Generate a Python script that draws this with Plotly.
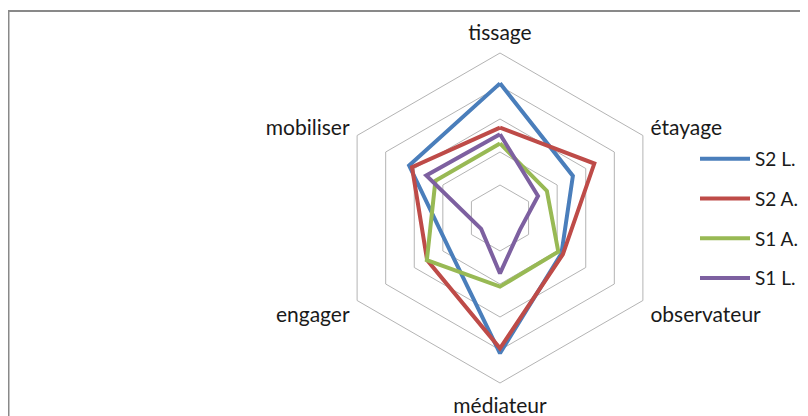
import plotly.graph_objects as go

categories = ["tissage", "étayage", "observateur", "médiateur", "engager", "mobiliser"]
series_names = ["S2 L.", "S2 A.", "S1 A.", "S1 L."]
s2_l = [4.08, 2.55, 2.15, 4.1, 1.8, 3.18]
s2_a = [2.74, 3.3, 2.2, 3.95, 2.55, 3.08]
s1_a = [2.26, 1.64, 2.04, 2.08, 2.56, 2.26]
s1_l = [2.54, 1.33, 0.7, 1.68, 0.66, 2.58]
colors = ["#4A7EBB", "#BE4B48", "#98B954", "#7D60A0"]

fig = go.Figure()
for i, (name, vals) in enumerate(zip(series_names, [s2_l, s2_a, s1_a, s1_l])):
    fig.add_trace(go.Scatterpolar(
        r=vals + vals[:1],
        theta=categories + categories[:1],
        mode="lines",
        name=name,
        legendgroup=f"g{i}",
        line=dict(color=colors[i], width=4),
    ))

W, H = 808, 416
cx, cy, R = 492, 210, 165
fig.update_layout(
    width=W, height=H,
    margin=dict(l=0, r=0, t=0, b=0),
    paper_bgcolor="white",
    font=dict(family="Lato", size=21, color="#1a1a1a"),
    polar=dict(
        domain=dict(x=[(cx - R) / W, (cx + R) / W], y=[(H - cy - R) / H, (H - cy + R) / H]),
        gridshape="linear",
        bgcolor="white",
        radialaxis=dict(range=[0, 5], dtick=1, showticklabels=False, ticks="",
                        showline=False, gridcolor="#B4B4B4", gridwidth=1),
        angularaxis=dict(direction="clockwise", rotation=90, showgrid=False,
                         showline=True, linecolor="#B4B4B4", linewidth=1,
                         ticks="outside", ticklen=4, tickcolor="rgba(0,0,0,0)",
                         tickfont=dict(size=21)),
    ),
    legend=dict(x=687 / W, y=(H - 132) / H, xanchor="left", yanchor="top",
                tracegroupgap=12, itemwidth=50, font=dict(size=19),
                bgcolor="rgba(0,0,0,0)"),
    shapes=[dict(type="rect", xref="paper", yref="paper",
                 x0=0.5 / W, x1=1.05, y0=-0.05, y1=(H - 3) / H,
                 line=dict(color="#898989", width=2))],
)

fig.write_html("out.html")
